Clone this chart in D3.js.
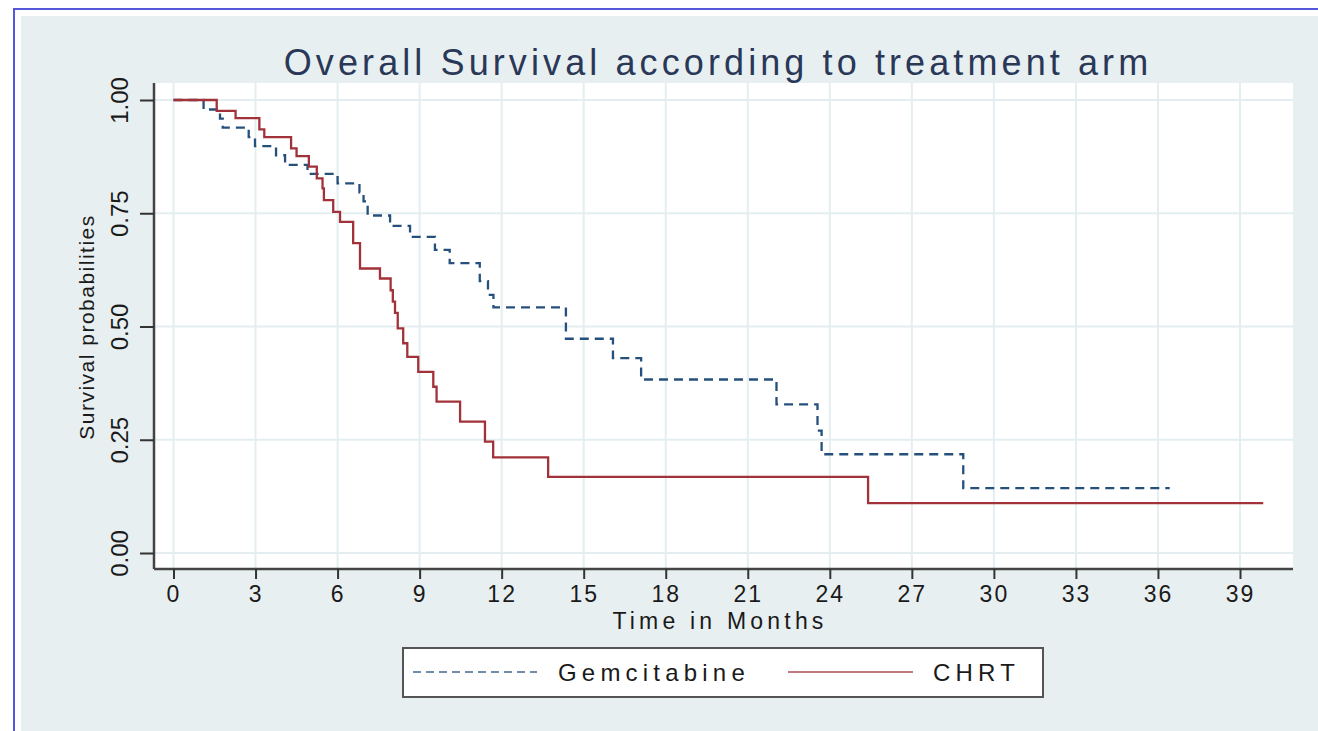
<!DOCTYPE html>
<html>
<head>
<meta charset="utf-8">
<script src="https://cdn.jsdelivr.net/npm/d3@7"></script>
<style>
  html, body { margin: 0; padding: 0; background: #ffffff; }
  svg { display: block; }
  text { font-family: Arial, "Liberation Sans", Helvetica, sans-serif; }
</style>
</head>
<body>
<svg id="chart" width="1318" height="731"></svg>
<script>
// Kaplan-Meier step data (months, survival probability); last point = end of follow-up
const gemTime = [0, 1.1, 1.7, 1.8, 2.75, 2.98, 3.75, 4.08, 4.9, 6.0, 6.8, 6.95, 7.1, 7.92, 8.65, 9.56, 10.1, 11.2, 11.5, 11.7, 14.35, 16.07, 17.1, 22.05, 23.55, 23.7, 28.88, 36.43];
const gemSurv = [1.0, 0.979, 0.959, 0.939, 0.918, 0.898, 0.878, 0.857, 0.837, 0.816, 0.796, 0.776, 0.745, 0.722, 0.698, 0.669, 0.640, 0.600, 0.570, 0.542, 0.473, 0.430, 0.383, 0.328, 0.270, 0.218, 0.143, 0.143];

const chrtTime = [0, 1.58, 2.27, 3.14, 3.32, 4.30, 4.5, 4.95, 5.24, 5.45, 5.5, 5.84, 6.09, 6.57, 6.82, 7.55, 7.94, 8.02, 8.1, 8.2, 8.4, 8.55, 8.95, 9.5, 9.62, 10.48, 11.39, 11.69, 13.7, 25.4, 39.85];
const chrtSurv = [1.0, 0.976, 0.96, 0.935, 0.918, 0.893, 0.876, 0.853, 0.827, 0.805, 0.779, 0.753, 0.731, 0.684, 0.628, 0.606, 0.58, 0.555, 0.53, 0.496, 0.463, 0.433, 0.40, 0.367, 0.334, 0.29, 0.246, 0.211, 0.168, 0.11, 0.11];

const xTicks = [0, 3, 6, 9, 12, 15, 18, 21, 24, 27, 30, 33, 36, 39];
const yTicks = [0, 0.25, 0.5, 0.75, 1.0];
const seriesNames = ["Gemcitabine", "CHRT"];

const titleText = "Overall Survival according to treatment arm";
const xTitle = "Time in Months";
const yTitle = "Survival probabilities";

const svg = d3.select("#chart");
const W = 1318, H = 731;

// outer frame
svg.append("rect").attr("x", 0).attr("y", 0).attr("width", W).attr("height", H).attr("fill", "#ffffff");
svg.append("rect").attr("x", 21).attr("y", 16).attr("width", W - 21).attr("height", H - 16).attr("fill", "#e8eff1");
svg.append("line").attr("x1", 14).attr("x2", W).attr("y1", 9).attr("y2", 9)
  .attr("stroke", "#5656dc").attr("stroke-width", 2);
svg.append("line").attr("x1", 14).attr("x2", 14).attr("y1", 8).attr("y2", H)
  .attr("stroke", "#5656dc").attr("stroke-width", 2);

// plot region
const plot = { left: 154, top: 83, right: 1293, bottom: 569 };
const x = d3.scaleLinear().domain([0, 39]).range([173.5, 1240]);
const y = d3.scaleLinear().domain([0, 1]).range([553, 100]);

svg.append("rect")
  .attr("x", plot.left).attr("y", plot.top)
  .attr("width", plot.right - plot.left).attr("height", plot.bottom - plot.top)
  .attr("fill", "#ffffff");

// grid
const grid = svg.append("g").attr("stroke", "#e4eef1").attr("stroke-width", 2);
grid.selectAll("line.v").data(xTicks).join("line")
  .attr("x1", d => x(d)).attr("x2", d => x(d))
  .attr("y1", plot.top).attr("y2", plot.bottom);
grid.selectAll("line.h").data(yTicks).join("line")
  .attr("y1", d => y(d)).attr("y2", d => y(d))
  .attr("x1", plot.left).attr("x2", plot.right);

// survival curves
const line = d3.line()
  .x(d => x(d[0]))
  .y(d => y(d[1]))
  .curve(d3.curveStepAfter);

const gemData = gemTime.map((t, i) => [t, gemSurv[i]]);
const chrtData = chrtTime.map((t, i) => [t, chrtSurv[i]]);

const gemColor = "#26507c";
const chrtColor = "#a23239";

svg.append("path").datum(gemData)
  .attr("d", line).attr("fill", "none")
  .attr("stroke", gemColor).attr("stroke-width", 2.3)
  .attr("stroke-dasharray", "9,6");

svg.append("path").datum(chrtData)
  .attr("d", line).attr("fill", "none")
  .attr("stroke", chrtColor).attr("stroke-width", 2.3);

// axes
const xAxis = svg.append("g")
  .attr("transform", `translate(0,${plot.bottom})`)
  .call(d3.axisBottom(x).tickValues(xTicks).tickSize(10).tickPadding(7).tickFormat(d3.format("d")));
xAxis.select(".domain").attr("d", `M${plot.left},0H${plot.right}`)
  .attr("stroke", "#444").attr("stroke-width", 2.5);
xAxis.selectAll(".tick line").attr("stroke", "#333").attr("stroke-width", 2);
xAxis.selectAll(".tick text")
  .attr("font-size", 23).attr("fill", "#1a1a1a")
  .attr("letter-spacing", 2)
  .attr("font-family", "Arial, 'Liberation Sans', sans-serif");

const yAxis = svg.append("g")
  .attr("transform", `translate(${plot.left},0)`)
  .call(d3.axisLeft(y).tickValues(yTicks).tickSize(14).tickPadding(10).tickFormat(d3.format(".2f")));
yAxis.select(".domain").attr("d", `M0,${plot.top}V${plot.bottom}`)
  .attr("stroke", "#444").attr("stroke-width", 2.5);
yAxis.selectAll(".tick line").attr("stroke", "#333").attr("stroke-width", 2);
yAxis.selectAll(".tick text")
  .attr("font-size", 24).attr("fill", "#1a1a1a")
  .attr("font-family", "Arial, 'Liberation Sans', sans-serif")
  .attr("x", null).attr("dy", null)
  .attr("text-anchor", "middle")
  .attr("transform", "translate(-26,0) rotate(-90)");

// titles
svg.append("text")
  .attr("x", 718).attr("y", 75)
  .attr("text-anchor", "middle")
  .attr("font-size", 36).attr("letter-spacing", 4.1)
  .attr("fill", "#2a3858")
  .text(titleText);

svg.append("text")
  .attr("x", 720).attr("y", 629)
  .attr("text-anchor", "middle")
  .attr("font-size", 23).attr("letter-spacing", 4.2)
  .attr("fill", "#1a1a1a")
  .text(xTitle);

svg.append("text")
  .attr("transform", `translate(94,327) rotate(-90)`)
  .attr("text-anchor", "middle")
  .attr("font-size", 21).attr("letter-spacing", 1.5)
  .attr("fill", "#1a1a1a")
  .text(yTitle);

// legend
const legend = svg.append("g");
legend.append("rect")
  .attr("x", 403).attr("y", 648).attr("width", 640).attr("height", 49)
  .attr("fill", "#ffffff").attr("stroke", "#555").attr("stroke-width", 2);

const legendItems = [
  { name: seriesNames[0], color: gemColor, dash: "8,5", x0: 413, x1: 537, tx: 558 },
  { name: seriesNames[1], color: chrtColor, dash: null, x0: 788, x1: 913, tx: 933 }
];
legendItems.forEach(it => {
  legend.append("line")
    .attr("x1", it.x0).attr("x2", it.x1).attr("y1", 672).attr("y2", 672)
    .attr("stroke", it.color).attr("stroke-width", 2).attr("stroke-opacity", 0.65)
    .attr("stroke-dasharray", it.dash);
  legend.append("text")
    .attr("x", it.tx).attr("y", 681)
    .attr("font-size", 24).attr("letter-spacing", 5.2)
    .attr("fill", "#1a1a1a")
    .text(it.name);
});
</script>
</body>
</html>
